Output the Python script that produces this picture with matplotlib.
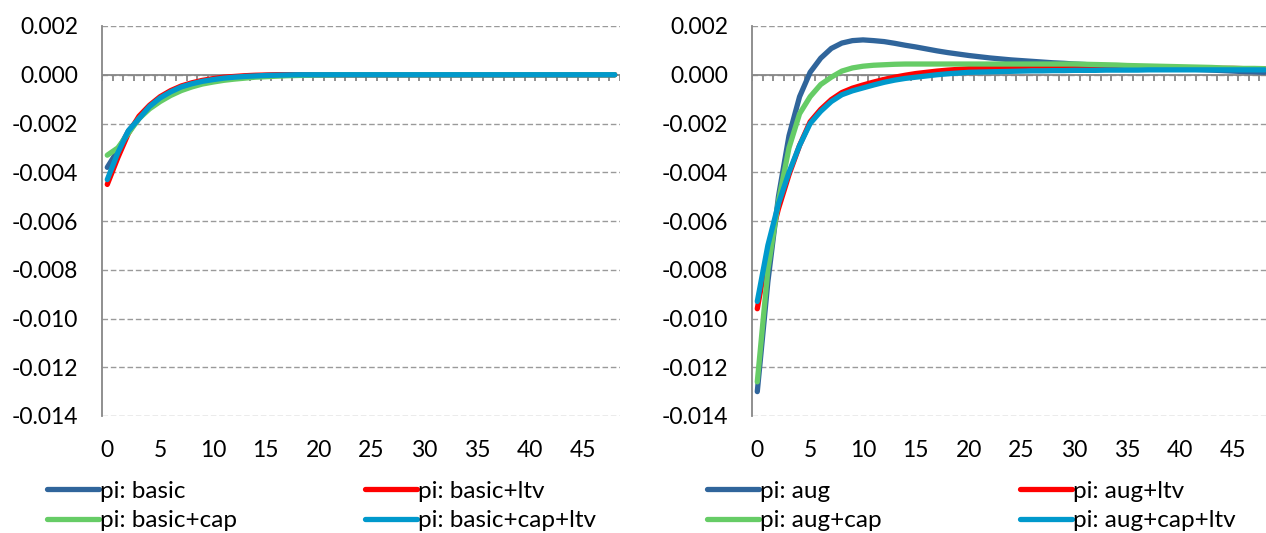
import numpy as np
import matplotlib.pyplot as plt
from matplotlib.lines import Line2D
from matplotlib.ticker import FuncFormatter

plt.rcParams['font.family'] = ['Lato', 'DejaVu Sans']
plt.rcParams['axes.unicode_minus'] = False

periods = list(range(49))

# left panel: basic model variants
pi_basic = [-0.0038, -0.0031, -0.0023, -0.0018, -0.0013, -0.00095, -0.0007, -0.0005, -0.00037, -0.00027,
            -0.0002, -0.00014, -0.0001, -0.00007, -0.00005, -0.00003, -0.00002, -0.00001, 0.0, 0.0,
            0.0, 0.0, 0.0, 0.0, 0.0, 0.0, 0.0, 0.0, 0.0, 0.0,
            0.0, 0.0, 0.0, 0.0, 0.0, 0.0, 0.0, 0.0, 0.0, 0.0,
            0.0, 0.0, 0.0, 0.0, 0.0, 0.0, 0.0, 0.0, 0.0]
pi_basic_ltv = [-0.0045, -0.0034, -0.0024, -0.0017, -0.00125, -0.0009, -0.00065, -0.00046, -0.00033, -0.00023,
                -0.00016, -0.0001, -0.00007, -0.00004, -0.00002, -0.00001, 0.0, 0.0, 0.0, 0.0,
                0.0, 0.0, 0.0, 0.0, 0.0, 0.0, 0.0, 0.0, 0.0, 0.0,
                0.0, 0.0, 0.0, 0.0, 0.0, 0.0, 0.0, 0.0, 0.0, 0.0,
                0.0, 0.0, 0.0, 0.0, 0.0, 0.0, 0.0, 0.0, 0.0]
pi_basic_cap = [-0.0033, -0.0030, -0.0024, -0.0018, -0.0014, -0.0011, -0.00085, -0.00065, -0.0005, -0.00038,
                -0.0003, -0.00023, -0.00018, -0.00014, -0.0001, -0.00008, -0.00006, -0.00004, -0.00003, -0.00002,
                -0.00001, -0.00001, 0.0, 0.0, 0.0, 0.0, 0.0, 0.0, 0.0, 0.0,
                0.0, 0.0, 0.0, 0.0, 0.0, 0.0, 0.0, 0.0, 0.0, 0.0,
                0.0, 0.0, 0.0, 0.0, 0.0, 0.0, 0.0, 0.0, 0.0]
pi_basic_cap_ltv = [-0.0043, -0.0032, -0.0023, -0.0018, -0.0013, -0.00095, -0.0007, -0.0005, -0.00037, -0.00027,
                    -0.0002, -0.00014, -0.0001, -0.00007, -0.00005, -0.00003, -0.00002, -0.00001, 0.0, 0.0,
                    0.0, 0.0, 0.0, 0.0, 0.0, 0.0, 0.0, 0.0, 0.0, 0.0,
                    0.0, 0.0, 0.0, 0.0, 0.0, 0.0, 0.0, 0.0, 0.0, 0.0,
                    0.0, 0.0, 0.0, 0.0, 0.0, 0.0, 0.0, 0.0, 0.0]

# right panel: augmented model variants
pi_aug = [-0.0130, -0.0085, -0.0050, -0.0025, -0.0009, 0.0001, 0.00068, 0.00108, 0.0013, 0.0014,
          0.00143, 0.0014, 0.00136, 0.00129, 0.00121, 0.00114, 0.00106, 0.00098, 0.00091, 0.00085,
          0.00079, 0.00074, 0.00069, 0.00065, 0.00061, 0.00058, 0.00055, 0.00052, 0.00049, 0.00047,
          0.00044, 0.00042, 0.00039, 0.00037, 0.00035, 0.00033, 0.00031, 0.00029, 0.00028, 0.00027,
          0.00025, 0.00023, 0.00021, 0.00019, 0.00017, 0.00015, 0.00013, 0.00012, 0.0001]
pi_aug_ltv = [-0.0096, -0.0072, -0.0055, -0.0041, -0.0029, -0.00193, -0.00142, -0.00102, -0.00073, -0.00055,
              -0.00042, -0.0003, -0.00019, -0.0001, -0.00002, 0.00005, 0.0001, 0.00015, 0.00019, 0.00022,
              0.00025, 0.00028, 0.0003, 0.00032, 0.00033, 0.00034, 0.00035, 0.00035, 0.00035, 0.00034,
              0.00034, 0.00034, 0.00033, 0.00033, 0.00032, 0.00032, 0.00031, 0.00031, 0.0003, 0.0003,
              0.00029, 0.00028, 0.00028, 0.00027, 0.00026, 0.00026, 0.00025, 0.00025, 0.00024]
pi_aug_cap = [-0.0126, -0.0080, -0.0052, -0.0030, -0.0016, -0.0009, -0.0004, -0.0001, 0.00015, 0.00028,
              0.00035, 0.00039, 0.00041, 0.00043, 0.00044, 0.00044, 0.00044, 0.00044, 0.00044, 0.00044,
              0.00044, 0.00044, 0.00044, 0.00044, 0.00044, 0.00044, 0.00044, 0.00044, 0.00044, 0.00044,
              0.00044, 0.00043, 0.00042, 0.00041, 0.0004, 0.00038, 0.00037, 0.00036, 0.00035, 0.00034,
              0.00033, 0.00032, 0.00031, 0.0003, 0.00028, 0.00027, 0.00026, 0.00026, 0.00025]
pi_aug_cap_ltv = [-0.0093, -0.0070, -0.0053, -0.0040, -0.0029, -0.0020, -0.0015, -0.0011, -0.00082, -0.00066,
                  -0.00054, -0.00042, -0.00031, -0.00022, -0.00015, -0.0001, -0.00005, 0.0, 0.00004, 0.00007,
                  0.0001, 0.00011, 0.00012, 0.00013, 0.00014, 0.00015, 0.00016, 0.00016, 0.00017, 0.00017,
                  0.00018, 0.00018, 0.00018, 0.00019, 0.00019, 0.00019, 0.00019, 0.0002, 0.0002, 0.0002,
                  0.0002, 0.0002, 0.0002, 0.0002, 0.0002, 0.0002, 0.0002, 0.0002, 0.0002]

colors = ['#30659B', '#FF0000', '#66CC66', '#0099CC']
y_ticks = np.arange(-0.014, 0.0021, 0.002)

W, H = 1266, 533
fig = plt.figure(figsize=(W / 100, H / 100), dpi=100)


def draw_panel(left_px, series, labels, leg_x):
    ax = fig.add_axes([left_px / W, 1 - 416 / H, 518 / W, 390 / H])
    ax.set_xlim(-0.5, 48.5)
    ax.set_ylim(-0.014, 0.002)
    ax.set_yticks(y_ticks)
    ax.yaxis.set_major_formatter(FuncFormatter(lambda v, p: f'{abs(v):.3f}' if abs(v) < 1e-9 else f'{v:.3f}'))
    ax.set_xticks(range(0, 49, 5))
    ax.tick_params(axis='x', length=0, pad=17, labelsize=16.5)
    ax.tick_params(axis='y', length=0, pad=17, labelsize=16.5)
    ax.grid(axis='y', color='#9A9A9A', linestyle=(0, (4, 2)), linewidth=1.0)
    ax.set_axisbelow(True)
    for s in ['top', 'right', 'bottom']:
        ax.spines[s].set_visible(False)
    ax.spines['left'].set_color('#878787')
    ax.spines['left'].set_linewidth(1.3)
    # category axis crossing at zero with boundary tick marks
    ax.axhline(0, color='#878787', linewidth=1.3, zorder=1.5)
    ax.vlines(np.arange(-0.5, 49, 1.0), -0.00026, 0, color='#878787', linewidth=1.3, zorder=1.5)

    for vals, c, lab in zip(series, colors, labels):
        ax.plot(periods, vals, color=c, linewidth=3.8, solid_capstyle='round',
                solid_joinstyle='round', label=lab, zorder=3)

    for col, idx in enumerate([(0, 2), (1, 3)]):
        hs = [Line2D([], [], color=colors[i], linewidth=3.8, solid_capstyle='round') for i in idx]
        fig.legend(hs, [labels[i] for i in idx], loc='center left',
                   bbox_to_anchor=(leg_x[col] / W, 1 - 506 / H), frameon=False,
                   fontsize=17.5, handlelength=2.15, handletextpad=0.05, borderpad=0,
                   borderaxespad=0, labelspacing=0.35)
    return ax


draw_panel(102, [pi_basic, pi_basic_ltv, pi_basic_cap, pi_basic_cap_ltv],
           ['pi: basic', 'pi: basic+ltv', 'pi: basic+cap', 'pi: basic+cap+ltv'], (47, 365))
draw_panel(752, [pi_aug, pi_aug_ltv, pi_aug_cap, pi_aug_cap_ltv],
           ['pi: aug', 'pi: aug+ltv', 'pi: aug+cap', 'pi: aug+cap+ltv'], (707, 1020))

fig.savefig('out.png', dpi=100)
